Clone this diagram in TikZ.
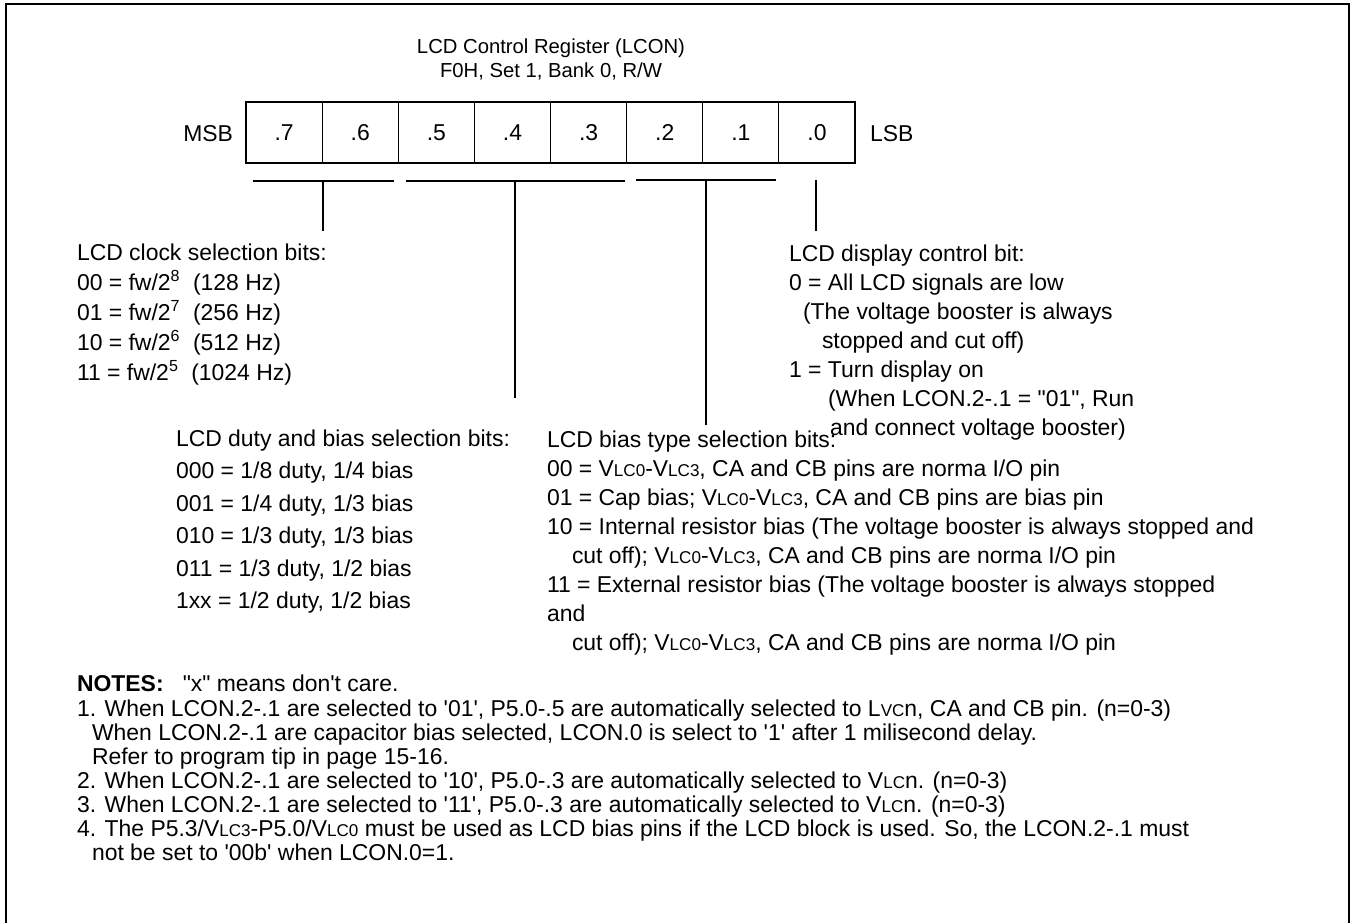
\documentclass[tikz,border=0pt]{standalone}
\usepackage{fontspec}
\setmainfont{Liberation Sans}
\newcommand\sq{\textquotesingle}
\newcommand\dq{\textquotedbl}
\newcommand\sm[1]{{\fontsize{12.8pt}{12.8pt}\selectfont #1}}
\begin{document}
\begin{tikzpicture}[x=0.75pt,y=-0.75pt,
  every node/.style={inner sep=0pt,outer sep=0pt},
  txt/.style={anchor=base west,font=\fontsize{17.2pt}{20pt}\selectfont},
  ttl/.style={anchor=base,font=\fontsize{15.2pt}{18pt}\selectfont},
  cell/.style={draw,line width=0.9pt,minimum width=57.09pt,minimum height=45.75pt,font=\fontsize{17.2pt}{20pt}\selectfont},
  brk/.style={line width=0.9pt}]
\useasboundingbox (0,0) rectangle (1352,922);
\draw[line width=1.6pt] (6,950) -- (6,4) -- (1349,4) -- (1349,950);
% title
\node[ttl] (t1) at (551,53) {LCD Control Register (LCON)};
\node[ttl] (t2) at (551,77) {F0H, Set 1, Bank 0, R/W};
% register
\node[cell] (b7) at (284.06,132.5) {.7};
\node[cell] (b6) at (360.19,132.5) {.6};
\node[cell] (b5) at (436.31,132.5) {.5};
\node[cell] (b4) at (512.44,132.5) {.4};
\node[cell] (b3) at (588.56,132.5) {.3};
\node[cell] (b2) at (664.69,132.5) {.2};
\node[cell] (b1) at (740.81,132.5) {.1};
\node[cell] (b0) at (816.94,132.5) {.0};
\node[txt,anchor=base east] (msb) at (233,141) {MSB};
\node[txt] (lsb) at (870,141) {LSB};
% brackets
\coordinate (a1) at (253,181); \coordinate (a2) at (394,181);
\coordinate (c1) at (323,181); \coordinate (d1) at (323,231);
\coordinate (a3) at (406,181); \coordinate (a4) at (625,181);
\coordinate (c2) at (515,181); \coordinate (d2) at (515,398);
\coordinate (a5) at (636,180); \coordinate (a6) at (776,180);
\coordinate (c3) at (706,180); \coordinate (d3) at (706,425);
\coordinate (c4) at (816,180); \coordinate (d4) at (816,231);
\draw[brk] (a1) -- (a2); \draw[brk] (c1) -- (d1);
\draw[brk] (a3) -- (a4); \draw[brk] (c2) -- (d2);
\draw[brk] (a5) -- (a6); \draw[brk] (c3) -- (d3);
\draw[brk] (c4) -- (d4);
% clock block
\node[txt] (k0) at (77,260) {LCD clock selection bits:};
\node[txt] (k1) at (77,290) {00 = fw/2\textsuperscript{8}\ \ (128 Hz)};
\node[txt] (k2) at (77,320) {01 = fw/2\textsuperscript{7}\ \ (256 Hz)};
\node[txt] (k3) at (77,350) {10 = fw/2\textsuperscript{6}\ \ (512 Hz)};
\node[txt] (k4) at (77,380) {11 = fw/2\textsuperscript{5}\ \ (1024 Hz)};
% display block
\node[txt] (p0) at (789,261) {LCD display control bit:};
\node[txt] (p1) at (789,290) {0 = All LCD signals are low};
\node[txt] (p2) at (803,319) {(The voltage booster is always};
\node[txt] (p3) at (822,348) {stopped and cut off)};
\node[txt] (p4) at (789,377) {1 = Turn display on};
\node[txt] (p5) at (828,406) {(When LCON.2-.1 = \dq 01\dq, Run};
\node[txt] (p6) at (830,435) {and connect voltage booster)};
% duty block
\node[txt] (u0) at (176,446) {LCD duty and bias selection bits:};
\node[txt] (u1) at (176,478) {000 = 1/8 duty, 1/4 bias};
\node[txt] (u2) at (176,511) {001 = 1/4 duty, 1/3 bias};
\node[txt] (u3) at (176,543) {010 = 1/3 duty, 1/3 bias};
\node[txt] (u4) at (176,576) {011 = 1/3 duty, 1/2 bias};
\node[txt] (u5) at (176,608) {1xx = 1/2 duty, 1/2 bias};
% bias type block
\node[txt] (v0) at (547,447) {LCD bias type selection bits:};
\node[txt] (v1) at (547,476) {00 = V\sm{LC0}-V\sm{LC3}, CA and CB pins are norma I/O pin};
\node[txt] (v2) at (547,505) {01 = Cap bias; V\sm{LC0}-V\sm{LC3}, CA and CB pins are bias pin};
\node[txt] (v3) at (547,534) {10 = Internal resistor bias (The voltage booster is always stopped and};
\node[txt] (v4) at (572,563) {cut off); V\sm{LC0}-V\sm{LC3}, CA and CB pins are norma I/O pin};
\node[txt] (v5) at (547,592) {11 = External resistor bias (The voltage booster is always stopped};
\node[txt] (v6) at (547,621) {and};
\node[txt] (v7) at (572,650) {cut off); V\sm{LC0}-V\sm{LC3}, CA and CB pins are norma I/O pin};
% notes
\node[txt] (n0) at (77,691) {\textbf{NOTES:}\ \ \ \dq x\dq\ means don\sq t care.};
\node[txt] (n1) at (77,716) {1. When LCON.2-.1 are selected to \sq 01\sq, P5.0-.5 are automatically selected to L\sm{VC}n, CA and CB pin. (n=0-3)};
\node[txt] (n2) at (92,740) {When LCON.2-.1 are capacitor bias selected, LCON.0 is select to \sq 1\sq\ after 1 milisecond delay.};
\node[txt] (n3) at (92,764) {Refer to program tip in page 15-16.};
\node[txt] (n4) at (77,788) {2. When LCON.2-.1 are selected to \sq 10\sq, P5.0-.3 are automatically selected to V\sm{LC}n. (n=0-3)};
\node[txt] (n5) at (77,812) {3. When LCON.2-.1 are selected to \sq 11\sq, P5.0-.3 are automatically selected to V\sm{LC}n. (n=0-3)};
\node[txt] (n6) at (77,836) {4. The P5.3/V\sm{LC3}-P5.0/V\sm{LC0} must be used as LCD bias pins if the LCD block is used. So, the LCON.2-.1 must};
\node[txt] (n7) at (92,860) {not be set to \sq 00b\sq\ when LCON.0=1.};
\end{tikzpicture}
\end{document}
